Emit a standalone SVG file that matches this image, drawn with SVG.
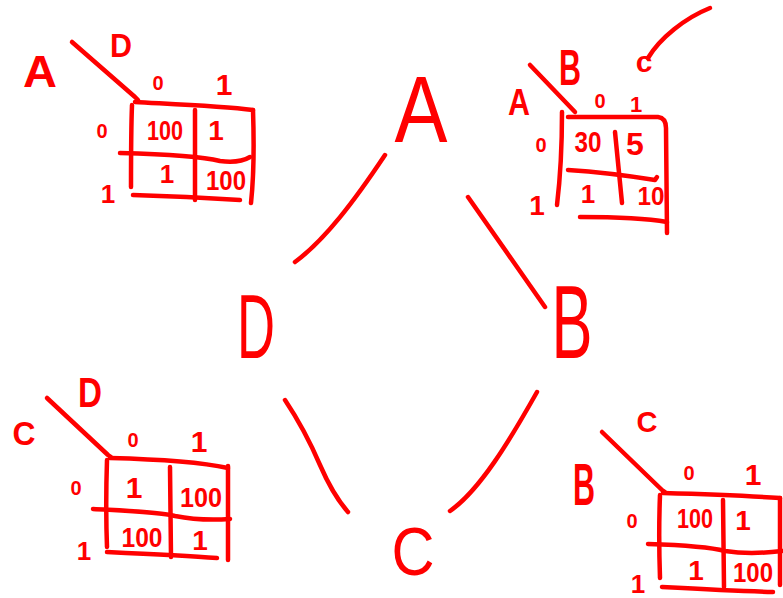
<svg xmlns="http://www.w3.org/2000/svg" width="783" height="598" viewBox="0 0 783 598">
<style>
.h{fill:none;stroke:#ff0000;stroke-width:4.5;stroke-linecap:round;stroke-linejoin:round}
.t{fill:#ff0000;font-family:"Liberation Sans",Arial,sans-serif;font-weight:bold;text-anchor:middle}
.big{font-weight:normal}
</style>
<rect width="783" height="598" fill="#ffffff"/>
<g id="connectors">
<path class="h" d="M385,155 C355,200 325,240 295,262"/>
<path class="h" d="M468,197 L545,307"/>
<path class="h" d="M537,392 C510,440 480,490 450,511"/>
<path class="h" d="M285,400 Q305,430 320,465 Q333,495 348,512"/>
</g>
<g id="node-A"><text class="t big" x="421" y="142" font-size="95" textLength="53" lengthAdjust="spacingAndGlyphs">A</text></g>
<g id="node-B"><text class="t big" x="572" y="358" font-size="104" textLength="41" lengthAdjust="spacingAndGlyphs">B</text></g>
<g id="node-C"><text class="t big" x="413" y="575" font-size="68" textLength="43" lengthAdjust="spacingAndGlyphs">C</text></g>
<g id="node-D"><text class="t big" x="256" y="358" font-size="90" textLength="38" lengthAdjust="spacingAndGlyphs">D</text></g>

<g id="table-AD">
<text class="t" x="40" y="87" font-size="44" textLength="34" lengthAdjust="spacingAndGlyphs">A</text>
<text class="t" x="121" y="57" font-size="34" textLength="22" lengthAdjust="spacingAndGlyphs">D</text>
<path class="h" d="M72,42 L135,97 L138,100"/>
<text class="t" x="158" y="90" font-size="20">0</text>
<text class="t" x="224" y="95" font-size="30">1</text>
<text class="t" x="102" y="138" font-size="20">0</text>
<text class="t" x="108" y="203" font-size="26">1</text>
<path class="h" d="M135,102 C170,104 220,106 253,110"/>
<path class="h" d="M253,110 C254,140 254,175 251,203"/>
<path class="h" d="M132,105 C131,130 131,160 131,187"/>
<path class="h" d="M120,153 C160,154 200,156 220,161 C235,163 245,160 250,157"/>
<path class="h" d="M195,110 L195,200"/>
<path class="h" d="M133,195 C170,196 210,198 240,200"/>
<text class="t" x="165" y="140" font-size="28" textLength="36" lengthAdjust="spacingAndGlyphs">100</text>
<text class="t" x="216" y="140" font-size="28">1</text>
<text class="t" x="167" y="183" font-size="26">1</text>
<text class="t" x="226" y="190" font-size="28" textLength="40" lengthAdjust="spacingAndGlyphs">100</text>
</g>

<g id="table-AB">
<text class="t" x="570" y="85" font-size="50" textLength="22" lengthAdjust="spacingAndGlyphs">B</text>
<text class="t" x="519" y="115" font-size="36" textLength="22" lengthAdjust="spacingAndGlyphs">A</text>
<text class="t" x="644" y="72" font-size="30" font-weight="normal">c</text>
<path class="h" d="M648,58 C660,38 685,18 710,8"/>
<path class="h" d="M530,65 L575,112"/>
<text class="t" x="600" y="108" font-size="20">0</text>
<text class="t" x="636" y="112" font-size="22">1</text>
<text class="t" x="541" y="152" font-size="20">0</text>
<text class="t" x="537" y="215" font-size="28">1</text>
<path class="h" d="M562,112 C562,150 560,180 557,205"/>
<path class="h" d="M568,117 L658,117 Q666,118 666,128 L667,233"/>
<path class="h" d="M615,132 L622,203"/>
<path class="h" d="M568,170 C600,172 630,176 655,180 L657,177"/>
<path class="h" d="M580,217 C620,217 650,219 667,222"/>
<text class="t" x="588" y="152" font-size="30" textLength="27" lengthAdjust="spacingAndGlyphs">30</text>
<text class="t" x="635" y="155" font-size="32">5</text>
<text class="t" x="588" y="203" font-size="26">1</text>
<text class="t" x="651" y="205" font-size="26" textLength="27" lengthAdjust="spacingAndGlyphs">10</text>
</g>

<g id="table-CD">
<text class="t" x="90" y="407" font-size="42" textLength="24" lengthAdjust="spacingAndGlyphs">D</text>
<text class="t" x="24" y="445" font-size="34" textLength="23" lengthAdjust="spacingAndGlyphs">C</text>
<path class="h" d="M47,398 L108,455 L111,457"/>
<text class="t" x="133" y="447" font-size="20">0</text>
<text class="t" x="199" y="452" font-size="30">1</text>
<text class="t" x="76" y="495" font-size="20">0</text>
<text class="t" x="84" y="560" font-size="26">1</text>
<path class="h" d="M110,458 C150,459 200,462 228,468"/>
<path class="h" d="M228,466 L228,560"/>
<path class="h" d="M107,460 C106,490 106,520 107,547"/>
<path class="h" d="M93,509 C130,511 160,512 175,516 C195,520 215,520 230,519"/>
<path class="h" d="M170,467 L171,557"/>
<path class="h" d="M107,552 C150,554 190,556 217,558"/>
<text class="t" x="134" y="498" font-size="30">1</text>
<text class="t" x="201" y="507" font-size="28" textLength="42" lengthAdjust="spacingAndGlyphs">100</text>
<text class="t" x="142" y="547" font-size="28" textLength="41" lengthAdjust="spacingAndGlyphs">100</text>
<text class="t" x="200" y="550" font-size="28">1</text>
</g>

<g id="table-BC">
<text class="t" x="647" y="432" font-size="30" textLength="21" lengthAdjust="spacingAndGlyphs">C</text>
<text class="t" x="584" y="505" font-size="60" textLength="22" lengthAdjust="spacingAndGlyphs">B</text>
<path class="h" d="M602,432 L662,490 L665,492"/>
<text class="t" x="689" y="480" font-size="20">0</text>
<text class="t" x="753" y="485" font-size="30">1</text>
<text class="t" x="632" y="528" font-size="20">0</text>
<text class="t" x="638" y="593" font-size="26">1</text>
<path class="h" d="M663,493 C700,494 750,496 780,498"/>
<path class="h" d="M780,498 L780,585"/>
<path class="h" d="M660,495 C659,520 659,550 660,578"/>
<path class="h" d="M648,544 C680,545 710,547 725,551 C745,554 765,553 782,551"/>
<path class="h" d="M723,500 L724,587"/>
<path class="h" d="M662,587 C700,589 740,591 773,592"/>
<text class="t" x="695" y="528" font-size="28" textLength="36" lengthAdjust="spacingAndGlyphs">100</text>
<text class="t" x="743" y="530" font-size="28">1</text>
<text class="t" x="696" y="580" font-size="28">1</text>
<text class="t" x="753" y="582" font-size="28" textLength="40" lengthAdjust="spacingAndGlyphs">100</text>
</g>
</svg>
